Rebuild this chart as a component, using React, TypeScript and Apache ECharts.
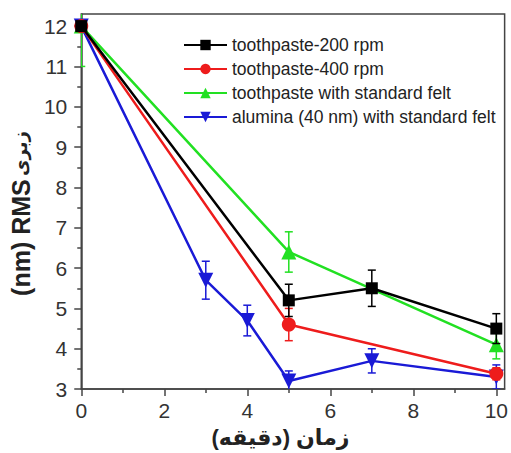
import React, { useEffect, useRef } from "react";
import * as echarts from "echarts";

const xTickValues = [0, 2, 4, 6, 8, 10];
const xMinorValues = [1, 3, 5, 7, 9];
const yTickValues = [3, 4, 5, 6, 7, 8, 9, 10, 11, 12];
const yMinorValues = [3.5, 4.5, 5.5, 6.5, 7.5, 8.5, 9.5, 10.5, 11.5];

const seriesNames = [
  "toothpaste-200 rpm",
  "toothpaste-400 rpm",
  "toothpaste with standard felt",
  "alumina (40 nm) with standard felt",
];

const times200 = [0, 5, 7, 10];
const values200 = [12, 5.2, 5.5, 4.5];
const err200 = [0, 0.4, 0.45, 0.37];

const times400 = [0, 5, 10];
const values400 = [12, 4.6, 3.38];
const err400 = [0, 0.4, 0.15];

const timesFelt = [0, 5, 10];
const valuesFelt = [12, 6.4, 4.1];
const errFelt = [1, 0.5, 0.35];

const timesAlumina = [0, 3, 4, 5, 7, 10];
const valuesAlumina = [12, 5.7, 4.7, 3.2, 3.7, 3.3];
const errAlumina = [0, 0.47, 0.38, 0.25, 0.3, 0.3];

const colors = ["#000000", "#ee1c1c", "#22e022", "#1a1ad6"];
const symbols = ["rect", "circle", "triangle", "triangle"];
const symbolSizes = [12, 14, 15, 15];
const symbolRotates = [0, 0, 0, 180];

const FONT = "'Liberation Sans', Arial, 'DejaVu Sans', sans-serif";

export default function App() {
  const ref = useRef<HTMLDivElement>(null);
  useEffect(() => {
    document.body.style.margin = "0";
    if (!ref.current) return;
    const chart = echarts.init(ref.current, undefined, { renderer: "svg" });

    const groups = [
      [times200, values200, err200],
      [times400, values400, err400],
      [timesFelt, valuesFelt, errFelt],
      [timesAlumina, valuesAlumina, errAlumina],
    ];
    const zOrder = [8, 7, 5, 6];

    const lineSeries: any[] = groups.map((g, i) => ({
      name: seriesNames[i],
      type: "line",
      xAxisIndex: 0,
      yAxisIndex: 0,
      data: g[0].map((t, j) => [t, g[1][j]]),
      symbol: symbols[i],
      symbolSize: symbolSizes[i],
      symbolRotate: symbolRotates[i],
      showAllSymbol: true,
      z: zOrder[i],
      itemStyle: { color: colors[i] },
      lineStyle: { color: colors[i], width: 2.5 },
    }));

    const errSeries: any[] = groups.map((g, i) => ({
      name: "err-" + i,
      type: "custom",
      xAxisIndex: 0,
      yAxisIndex: 0,
      clip: true,
      z: zOrder[i] - 0.5,
      data: g[0].map((t, j) => [t, g[1][j], g[2][j]]),
      encode: { x: 0, y: 1 },
      renderItem: (params: any, api: any) => {
        const x = api.value(0);
        const y = api.value(1);
        const e = api.value(2);
        if (!e) return { type: "group", children: [] };
        const top = api.coord([x, y + e]);
        const bot = api.coord([x, y - e]);
        const hw = 4;
        const style = { stroke: colors[i], lineWidth: 1.5 };
        return {
          type: "group",
          children: [
            { type: "line", shape: { x1: top[0], y1: top[1], x2: bot[0], y2: bot[1] }, style },
            { type: "line", shape: { x1: top[0] - hw, y1: top[1], x2: top[0] + hw, y2: top[1] }, style },
            { type: "line", shape: { x1: bot[0] - hw, y1: bot[1], x2: bot[0] + hw, y2: bot[1] }, style },
          ],
        };
      },
    }));

    const axisColor = "#444";

    chart.setOption({
      animation: false,
      backgroundColor: "#ffffff",
      grid: {
        left: 81,
        right: 4,
        top: 14,
        bottom: 62,
        show: true,
        borderColor: axisColor,
        borderWidth: 1.5,
        backgroundColor: "transparent",
      },
      legend: {
        data: seriesNames,
        orient: "vertical",
        left: 178,
        top: 31,
        itemWidth: 43,
        itemHeight: 13,
        itemGap: 6,
        textStyle: { fontFamily: FONT, fontSize: 17.5, color: "#222" },
      },
      xAxis: [
        {
          type: "value",
          min: 0,
          max: 10.2,
          position: "bottom",
          name: "زمان (دقیقه)",
          nameLocation: "middle",
          nameGap: 35,
          nameTextStyle: { fontFamily: FONT, fontSize: 22, fontWeight: "bold", color: "#222", padding: [0, 25, 0, 0] },
          axisLine: { show: true, onZero: false, lineStyle: { color: axisColor, width: 1.5 } },
          axisTick: { show: true, customValues: xTickValues, length: 7, lineStyle: { color: axisColor, width: 1.5 } },
          axisLabel: {
            customValues: xTickValues,
            margin: 11,
            fontFamily: FONT,
            fontSize: 21,
            color: "#333",
          },
          splitLine: { show: false },
        },
        {
          type: "value",
          min: 0,
          max: 10.2,
          position: "bottom",
          axisLine: { show: false },
          axisTick: { show: true, customValues: xMinorValues, length: 4, lineStyle: { color: axisColor, width: 1.5 } },
          axisLabel: { show: false },
          splitLine: { show: false },
        },
      ],
      yAxis: [
        {
          type: "value",
          min: 3,
          max: 12.3,
          position: "left",
          name: "{a|(nm) RMS} {b|زبری}",
          nameLocation: "middle",
          nameRotate: 90,
          nameGap: 37,
          nameTextStyle: {
            padding: [0, 24, 0, 0],
            rich: {
              a: { fontFamily: FONT, fontSize: 25, fontWeight: "bold", color: "#222" },
              b: { fontFamily: FONT, fontSize: 18, fontWeight: "bold", color: "#222" },
            },
          },
          axisLine: { show: true, onZero: false, lineStyle: { color: axisColor, width: 1.5 } },
          axisTick: { show: true, customValues: yTickValues, length: 7, lineStyle: { color: axisColor, width: 1.5 } },
          axisLabel: {
            customValues: yTickValues,
            margin: 14,
            fontFamily: FONT,
            fontSize: 21,
            color: "#333",
          },
          splitLine: { show: false },
        },
        {
          type: "value",
          min: 3,
          max: 12.3,
          position: "left",
          axisLine: { show: false },
          axisTick: { show: true, customValues: yMinorValues, length: 4, lineStyle: { color: axisColor, width: 1.5 } },
          axisLabel: { show: false },
          splitLine: { show: false },
        },
      ],
      series: [...errSeries, ...lineSeries],
    });

    return () => chart.dispose();
  }, []);

  return <div ref={ref} style={{ width: 511, height: 453 }} />;
}
